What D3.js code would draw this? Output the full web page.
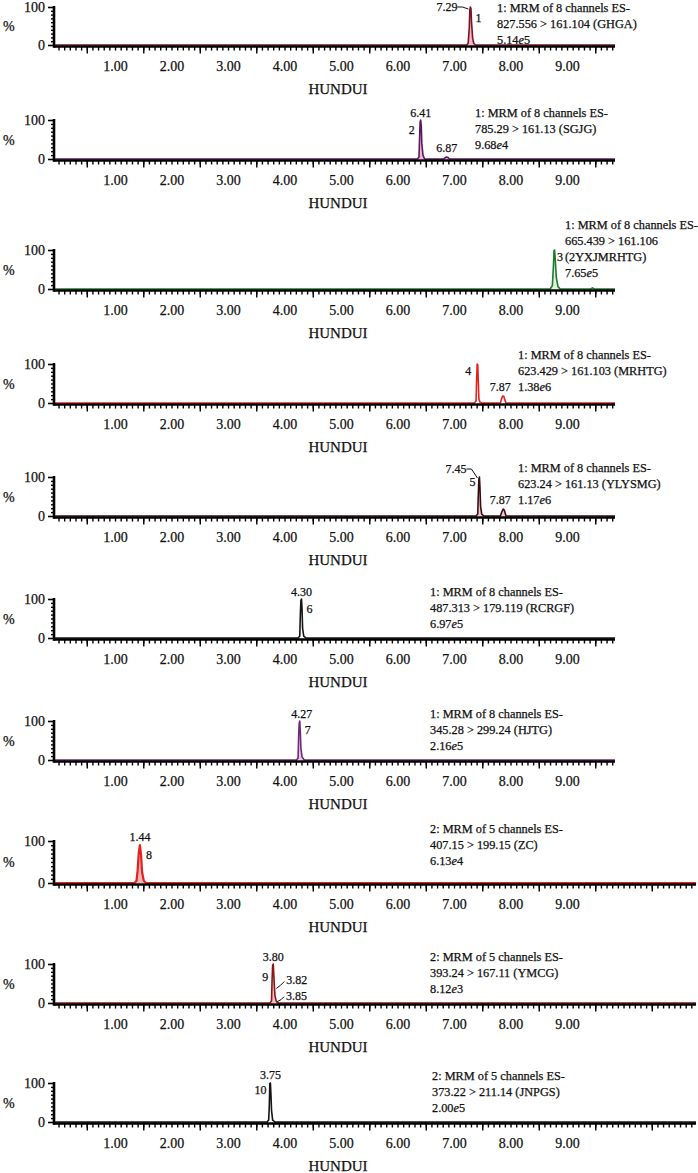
<!DOCTYPE html>
<html>
<head>
<meta charset="utf-8">
<script src="https://cdn.jsdelivr.net/npm/d3@7"></script>
<style>
  body { margin: 0; background: #fff; }
  text { font-family: "Liberation Serif", "DejaVu Serif", serif; fill: #111; stroke: #111; stroke-width: 0.25px; }
</style>
</head>
<body>
<div id="chart"></div>
<script>
// ---- data ----
const channelHeads = [
  "1: MRM of 8 channels ES-", "1: MRM of 8 channels ES-", "1: MRM of 8 channels ES-",
  "1: MRM of 8 channels ES-", "1: MRM of 8 channels ES-", "1: MRM of 8 channels ES-",
  "1: MRM of 8 channels ES-", "2: MRM of 5 channels ES-", "2: MRM of 5 channels ES-",
  "2: MRM of 5 channels ES-"
];
const transitions = [
  ["827.556 > 161.104 (GHGA)"],
  ["785.29 > 161.13 (SGJG)"],
  ["665.439 > 161.106", "(2YXJMRHTG)"],
  ["623.429 > 161.103 (MRHTG)"],
  ["623.24 > 161.13 (YLYSMG)"],
  ["487.313 > 179.119 (RCRGF)"],
  ["345.28 > 299.24 (HJTG)"],
  ["407.15 > 199.15 (ZC)"],
  ["393.24 > 167.11 (YMCG)"],
  ["373.22 > 211.14 (JNPGS)"]
];
// base intensity: mantissa, exponent
const intensities = [
  ["5.14", "5"], ["9.68", "4"], ["7.65", "5"], ["1.38", "6"], ["1.17", "6"],
  ["6.97", "5"], ["2.16", "5"], ["6.13", "4"], ["8.12", "3"], ["2.00", "5"]
];
const xTickLabels = [1, 2, 3, 4, 5, 6, 7, 8, 9];
const yTickLabels = [0, 100];

// traces: [retention time (min), relative intensity (%)]
const trace1 = [[7.22,0],[7.25,4],[7.27,45],[7.28,92],[7.29,100],[7.30,96],[7.31,60],[7.33,18],[7.35,4],[7.38,0]];
const trace2 = [[6.35,0],[6.38,5],[6.39,50],[6.40,95],[6.41,100],[6.42,85],[6.43,40],[6.45,10],[6.48,0],
                [6.82,0],[6.85,4],[6.87,5],[6.89,4],[6.92,0]];
const trace3 = [[8.70,0],[8.74,8],[8.76,60],[8.77,98],[8.78,100],[8.79,80],[8.81,30],[8.84,6],[8.88,0],
                [9.42,0],[9.45,3],[9.48,0]];
const trace4 = [[7.36,0],[7.39,5],[7.40,60],[7.41,100],[7.42,98],[7.43,55],[7.44,10],[7.46,2],[7.50,0],
                [7.82,0],[7.84,10],[7.86,18],[7.88,17],[7.90,8],[7.92,0]];
const trace5 = [[7.39,0],[7.42,5],[7.43,55],[7.44,95],[7.45,100],[7.46,70],[7.47,25],[7.49,5],[7.53,0],
                [7.82,0],[7.85,12],[7.87,18],[7.89,15],[7.92,0]];
const trace6 = [[4.24,0],[4.27,5],[4.28,60],[4.29,96],[4.30,100],[4.31,75],[4.32,25],[4.34,5],[4.38,0]];
const trace7 = [[4.21,0],[4.24,5],[4.25,60],[4.26,95],[4.27,100],[4.28,70],[4.29,30],[4.31,8],[4.35,0]];
const trace8 = [[1.34,0],[1.38,5],[1.40,30],[1.42,72],[1.44,90],[1.46,68],[1.48,25],[1.51,5],[1.55,0]];
const trace9 = [[3.74,0],[3.77,5],[3.78,60],[3.79,96],[3.80,100],[3.81,75],[3.82,45],[3.83,20],[3.85,6],[3.87,2],[3.90,0]];
const trace10 = [[3.69,0],[3.72,5],[3.73,40],[3.74,98],[3.75,100],[3.76,70],[3.77,30],[3.79,5],[3.83,0]];
const traces = [trace1, trace2, trace3, trace4, trace5, trace6, trace7, trace8, trace9, trace10];

// peak annotations: retention time, intensity at the anchor, text
const peakLabels = [
  [{t:7.29, v:100, text:"7.29"}, {t:7.29, v:100, text:"1"}],
  [{t:6.41, v:100, text:"6.41"}, {t:6.41, v:100, text:"2"}, {t:6.87, v:5, text:"6.87"}],
  [{t:8.78, v:100, text:"3"}],
  [{t:7.41, v:100, text:"4"}, {t:7.87, v:18, text:"7.87"}],
  [{t:7.45, v:100, text:"7.45"}, {t:7.45, v:100, text:"5"}, {t:7.87, v:18, text:"7.87"}],
  [{t:4.30, v:100, text:"4.30"}, {t:4.30, v:100, text:"6"}],
  [{t:4.27, v:100, text:"4.27"}, {t:4.27, v:100, text:"7"}],
  [{t:1.44, v:90, text:"1.44"}, {t:1.44, v:90, text:"8"}],
  [{t:3.80, v:100, text:"3.80"}, {t:3.80, v:100, text:"9"}, {t:3.82, v:45, text:"3.82"}, {t:3.85, v:6, text:"3.85"}],
  [{t:3.75, v:100, text:"3.75"}, {t:3.75, v:100, text:"10"}]
];

// ---- layout / style ----
const W = 698, H = 1173;
const strokeColors = ["#7a1424", "#5a1862", "#1d7a2c", "#e3211d", "#3b0c10", "#151515", "#6e2a7a", "#e3211d", "#8a1616", "#151515"];
const fillColors   = ["#f2b6c6", "#f0b4d2", "#e2f0dc", "#ffffff", "#f3c9d1", "#ffffff", "#eac6ea", "#f6b4b4", "#f3c4c4", "#ffffff"];
const baselines = [45, 159, 289, 403, 516, 638, 760, 883, 1003, 1122];
const heights   = [38, 39, 39, 39, 39, 39, 39, 42, 39, 39];
const noteX     = [497, 475, 565, 518, 518, 430, 430, 430, 430, 432];
const noteLast  = [-1, -10, -12, -12, -12, -10, -10, -18, -10, -10]; // baseline of the last note line vs axis
const lineH = 16;
const axisX0 = 54;
const pxPerMin = 56.5;
const t0 = -0.08;
const longAxis = [false, false, false, false, false, false, false, true, true, true];

// label placement relative to the anchor point
const labelPos = [
  [{dx:-13, dy:4, a:"end", lead:[-13,0,-8,0,-2,2]}, {dx:5, dy:15, a:"start"}],
  [{dx:0, dy:-3, a:"middle"}, {dx:-6, dy:14, a:"end"}, {dx:0, dy:-5, a:"middle"}],
  [{dx:2.5, dy:11, a:"start"}],
  [{dx:-6, dy:11, a:"end"}, {dx:-3, dy:-5, a:"middle"}],
  [{dx:-13, dy:-4, a:"end", lead:[-13,-8,-8,-8,-2,1]}, {dx:-4, dy:9, a:"end"}, {dx:-3, dy:-5, a:"middle"}],
  [{dx:0, dy:-3, a:"middle"}, {dx:5, dy:14, a:"start"}],
  [{dx:2, dy:-3, a:"middle"}, {dx:5, dy:13, a:"start"}],
  [{dx:0, dy:-4, a:"middle"}, {dx:6, dy:14, a:"start"}],
  [{dx:0, dy:-3, a:"middle"}, {dx:-5, dy:17, a:"end"},
   {dx:12, dy:-1, a:"start", lead:[2,3,6,0,10,-4]}, {dx:10, dy:-1, a:"start", lead:[1,1,5,-1,8,-4]}],
  [{dx:0, dy:-4, a:"middle"}, {dx:-4, dy:11, a:"end"}]
];

const svg = d3.select("#chart").append("svg")
  .attr("width", W).attr("height", H)
  .style("display", "block");

traces.forEach((trace, i) => {
  const base = baselines[i];
  const top = base - heights[i];
  const xEnd = longAxis[i] ? 696 : 615;
  const t1 = t0 + (xEnd - axisX0) / pxPerMin;

  const x = d3.scaleLinear().domain([t0, t1]).range([axisX0, xEnd]);
  const y = d3.scaleLinear().domain([0, 100]).range([base, top]);

  const g = svg.append("g");

  // trace (baseline extended to both ends of the axis)
  const pts = [[t0 + 0.02, 0], ...trace, [t1, 0]];
  g.append("path")
    .datum(pts)
    .attr("d", d3.area().x(d => x(d[0])).y0(base).y1(d => y(d[1])))
    .attr("fill", fillColors[i]);
  g.append("path")
    .datum(pts)
    .attr("d", d3.line().x(d => x(d[0])).y(d => y(d[1])))
    .attr("fill", "none")
    .attr("stroke", strokeColors[i])
    .attr("stroke-width", i === 7 ? 2.2 : 1.6)
    .attr("stroke-linejoin", "round");

  // x axis: minor ticks every 0.1, longer ones at the half minutes
  const minor = d3.range(0, t1, 0.1).map(v => +v.toFixed(2));
  const xMinor = d3.axisBottom(x).tickValues(minor).tickSize(4).tickFormat("");
  const xHalf = d3.axisBottom(x).tickValues(d3.range(0.5, t1, 1)).tickSize(7).tickFormat("");
  const xLab = d3.axisBottom(x).tickValues(xTickLabels).tickSize(0).tickPadding(15)
    .tickFormat(d3.format(".2f"));
  [xMinor, xHalf].forEach(ax => {
    const a = g.append("g").attr("transform", `translate(0,${base + 1.5})`).call(ax);
    a.select(".domain").remove();
    a.selectAll("line").attr("stroke", "#000").attr("stroke-width", 1.4);
  });
  const al = g.append("g").attr("transform", `translate(0,${base + 1.5})`).call(xLab);
  al.select(".domain").remove();
  al.selectAll("text").style("font-size", "14px").style("font-family", '"Liberation Serif", serif').attr("fill", "#111");
  g.append("line")
    .attr("x1", axisX0).attr("x2", xEnd)
    .attr("y1", base + 1.5).attr("y2", base + 1.5)
    .attr("stroke", "#000").attr("stroke-width", 2.6);

  // y axis
  const yMinor = d3.axisLeft(y).tickValues(d3.range(10, 100, 10)).tickSize(3).tickFormat("");
  const yLab = d3.axisLeft(y).tickValues(yTickLabels).tickSize(6).tickPadding(3);
  const ym = g.append("g").attr("transform", `translate(${axisX0},0)`).call(yMinor);
  ym.select(".domain").remove();
  ym.selectAll("line").attr("stroke", "#000").attr("stroke-width", 1.4);
  const yl = g.append("g").attr("transform", `translate(${axisX0},0)`).call(yLab);
  yl.select(".domain").remove();
  yl.selectAll("line").attr("stroke", "#000").attr("stroke-width", 1.6);
  yl.selectAll("text").style("font-size", "14px").style("font-family", '"Liberation Serif", serif').attr("fill", "#111");
  g.append("line")
    .attr("x1", axisX0).attr("x2", axisX0)
    .attr("y1", top - 1).attr("y2", base + 2.8)
    .attr("stroke", "#000").attr("stroke-width", 2.6);

  g.append("text")
    .attr("x", 3).attr("y", (top + base) / 2 + 5)
    .style("font-size", "14px")
    .text("%");

  g.append("text")
    .attr("x", 338).attr("y", base + 49)
    .attr("text-anchor", "middle")
    .style("font-size", "15px")
    .text("HUNDUI");

  // channel note
  const lines = [channelHeads[i], ...transitions[i]];
  const first = base + noteLast[i] - lines.length * lineH;
  const note = g.append("g").attr("transform", `translate(${noteX[i]},${first})`);
  lines.forEach((s, k) => {
    note.append("text").attr("y", k * lineH).style("font-size", "12.3px").text(s);
  });
  const inten = note.append("text").attr("y", lines.length * lineH).style("font-size", "12.3px");
  inten.append("tspan").text(intensities[i][0]);
  inten.append("tspan").style("font-style", "italic").text("e");
  inten.append("tspan").text(intensities[i][1]);

  // peak labels
  peakLabels[i].forEach((p, k) => {
    const pos = labelPos[i][k];
    const px = x(p.t), py = y(p.v);
    g.append("text")
      .attr("x", px + pos.dx).attr("y", py + pos.dy)
      .attr("text-anchor", pos.a)
      .style("font-size", "12px")
      .text(p.text);
    if (pos.lead) {
      const L = pos.lead;
      g.append("path")
        .attr("d", `M${px + L[0]},${py + L[1]} L${px + L[2]},${py + L[3]} L${px + L[4]},${py + L[5]}`)
        .attr("stroke", "#111").attr("stroke-width", 1).attr("fill", "none");
    }
  });
});
</script>
</body>
</html>
